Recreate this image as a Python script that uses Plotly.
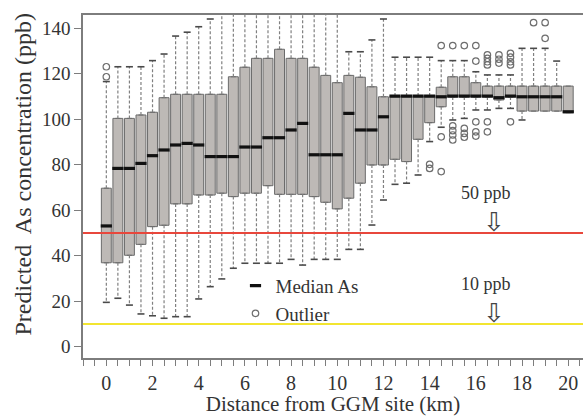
import plotly.graph_objects as go

# ---- data ----
km = [0.0, 0.5, 1.0, 1.5, 2.0, 2.5, 3.0, 3.5, 4.0, 4.5, 5.0, 5.5, 6.0, 6.5, 7.0, 7.5,
      8.0, 8.5, 9.0, 9.5, 10.0, 10.5, 11.0, 11.5, 12.0, 12.5, 13.0, 13.5, 14.0, 14.5,
      15.0, 15.5, 16.0, 16.5, 17.0, 17.5, 18.0, 18.5, 19.0, 19.5, 20.0]
lower = [19.5, 21.3, 18.3, 14.4, 13.6, 12.5, 13.2, 13.2, 21.0, 26.4, 29.8, 34.5, 36.7, 36.7,
         36.7, 36.7, 38.4, 35.9, 38.4, 38.4, 38.4, 42.8, 42.8, 53.5, 64.5, 71.4, 71.9, 75.5,
         90.2, 96.5, 99.7, 100.4, 104.1, 104.1, 104.8, 104.8, 99.7, 103.6, 103.6, 103.6, 102.9]
q1 = [36.9, 36.9, 40.2, 45.0, 52.8, 53.4, 62.8, 62.8, 66.7, 66.7, 67.5, 66.0, 67.5, 67.5,
      70.8, 67.0, 67.0, 67.0, 66.0, 63.5, 60.6, 65.3, 71.9, 79.9, 79.9, 82.4, 81.4, 91.2,
      98.5, 105.5, 109.8, 109.8, 109.8, 109.8, 108.5, 109.8, 103.6, 103.6, 103.6, 103.6, 102.9]
median = [53.1, 78.4, 78.4, 80.6, 84.0, 86.5, 88.7, 89.4, 88.7, 83.6, 83.6, 83.6, 87.8, 87.8,
          91.9, 91.9, 95.3, 98.2, 84.4, 84.4, 84.4, 102.6, 95.3, 95.3, 101.1, 110.2, 110.2, 110.2,
          110.2, 109.9, 110.2, 110.2, 110.2, 110.2, 109.5, 110.2, 109.9, 109.9, 109.9, 109.9, 103.3]
q3 = [69.7, 100.4, 100.4, 101.9, 103.1, 109.5, 111.0, 111.0, 111.0, 111.0, 111.0, 118.7, 122.9,
      126.8, 126.8, 130.8, 126.8, 126.8, 122.9, 119.3, 116.1, 119.3, 118.5, 114.3, 109.9, 110.2,
      110.2, 110.2, 110.2, 114.1, 118.7, 118.7, 116.1, 114.6, 114.6, 114.6, 114.6, 114.6, 114.6,
      114.6, 114.6]
upper = [116.6, 123.1, 123.1, 123.1, 125.8, 128.7, 136.6, 138.3, 140.7, 144.1, 150, 150, 150,
         150, 150, 150, 150, 150, 150, 150, 150, 129.7, 129.7, 134.9, 144.1, 127.3, 127.3, 127.3,
         127.3, 125.8, 125.8, 125.8, 120.9, 119.5, 119.5, 119.5, 131.2, 131.2, 131.2, 125.6, 114.6]

out_km = [0.0, 0.0, 14.0, 14.0, 14.5, 14.5, 14.5, 15.0, 15.0, 15.0, 15.0, 15.0,
          15.5, 15.5, 15.5, 15.5, 16.0, 16.0, 16.0, 16.0, 16.0,
          16.5, 16.5, 16.5, 16.5, 16.5, 16.5, 17.0, 17.0, 17.0,
          17.5, 17.5, 17.5, 17.5, 17.5, 18.5, 19.0, 19.0]
out_val = [123.1, 118.7, 80.2, 78.4, 132.4, 92.3, 77.0, 132.4, 97.1, 95.0, 93.1, 90.9,
           132.4, 96.0, 93.8, 92.1, 132.4, 125.6, 98.9, 94.5, 92.6,
           128.3, 126.8, 125.3, 123.9, 98.9, 94.5, 128.3, 126.4, 124.7,
           129.0, 127.3, 125.3, 123.9, 98.9, 142.5, 142.5, 135.6]

thresholds = [50, 10]
threshold_labels = ["50 ppb", "10 ppb"]
threshold_colors = ["#e8473c", "#f2e530"]

x_ticks = [0, 2, 4, 6, 8, 10, 12, 14, 16, 18, 20]
y_ticks = [0, 20, 40, 60, 80, 100, 120, 140]

FONT = "Times New Roman"
TXT = "#333333"
GRAY = "#7d7d7d"

fig = go.Figure()

# whiskers (dashed), built from the data arrays
wx, wy = [], []
cap_x, cap_y = [], []
for k, lo, a, b, hi in zip(km, lower, q1, q3, upper):
    if hi > b:
        wx += [k, k, None]
        wy += [b, hi, None]
        cap_x.append(k)
        cap_y.append(hi)
    if lo < a:
        wx += [k, k, None]
        wy += [a, lo, None]
        cap_x.append(k)
        cap_y.append(lo)

fig.add_trace(go.Scatter(x=wx, y=wy, mode="lines", showlegend=False, hoverinfo="skip",
                         line=dict(color="#808080", width=1.2, dash="3px,2px")))
fig.add_trace(go.Scatter(x=cap_x, y=cap_y, mode="markers", showlegend=False, hoverinfo="skip",
                         marker=dict(symbol="line-ew", size=5, color="#4a4a4a",
                                     line=dict(color="#4a4a4a", width=1.6))))

# boxes
fig.add_trace(go.Box(x=km, q1=q1, median=median, q3=q3, lowerfence=q1, upperfence=q3,
                     width=0.43, fillcolor="#bdb9b6", showlegend=False,
                     line=dict(color="#6b6b6b", width=1), boxpoints=False))

# medians
fig.add_trace(go.Scatter(x=km, y=median, mode="markers", name="Median As",
                         marker=dict(symbol="line-ew", size=8, color="#111111",
                                     line=dict(color="#111111", width=3.2))))

# outliers
fig.add_trace(go.Scatter(x=out_km, y=out_val, mode="markers", name="Outlier",
                         marker=dict(symbol="circle-open", size=6.5, color="#6e6e6e",
                                     line=dict(color="#6e6e6e", width=1.2))))

# threshold lines and labels
for t, lab, col in zip(thresholds, threshold_labels, threshold_colors):
    fig.add_hline(y=t, line=dict(color=col, width=2), layer="above")
    fig.add_annotation(x=16.45, y=t + 17.6, text=lab, showarrow=False,
                       font=dict(family=FONT, size=18, color=TXT))
    fig.add_annotation(x=16.78, y=t + 5.0, text="⇩", showarrow=False,
                       font=dict(family="DejaVu Sans", size=26, color="#444444"))

# y-axis title as annotation
fig.add_annotation(xref="paper", yref="paper", x=-0.12, y=0.535,
                   text="Predicted  As concentration (ppb)", textangle=-90,
                   showarrow=False, xanchor="center", yanchor="middle",
                   font=dict(family=FONT, size=24, color=TXT))

fig.update_layout(
    template="none",
    width=583, height=416,
    margin=dict(l=83, r=0, t=15, b=58),
    paper_bgcolor="white", plot_bgcolor="white",
    font=dict(family=FONT, color=TXT, size=19),
    showlegend=True,
    legend=dict(x=0.305, y=0.266, xanchor="left", yanchor="top",
                bgcolor="rgba(0,0,0,0)", font=dict(family=FONT, size=19, color=TXT),
                itemwidth=30, tracegroupgap=0),
    xaxis=dict(range=[-1.01, 20.64], tickvals=x_ticks, ticks="outside", ticklen=6,
               tickcolor=GRAY, showline=True, linecolor=GRAY, linewidth=1.5, mirror=True,
               showgrid=False, zeroline=False, tickfont=dict(family=FONT, size=20, color=TXT),
               minor=dict(dtick=0.5, ticks="outside", ticklen=6, tickcolor=GRAY, showgrid=False),
               title=dict(text="Distance from GGM site (km)", standoff=2,
                          font=dict(family=FONT, size=21, color=TXT))),
    yaxis=dict(range=[-4.97, 145.86], tickvals=y_ticks, ticks="outside", ticklen=7,
               tickcolor=GRAY, showline=True, linecolor=GRAY, linewidth=1.5,
               showgrid=False, zeroline=False, tickfont=dict(family=FONT, size=19, color=TXT)),
)

fig.write_html("out.html")
